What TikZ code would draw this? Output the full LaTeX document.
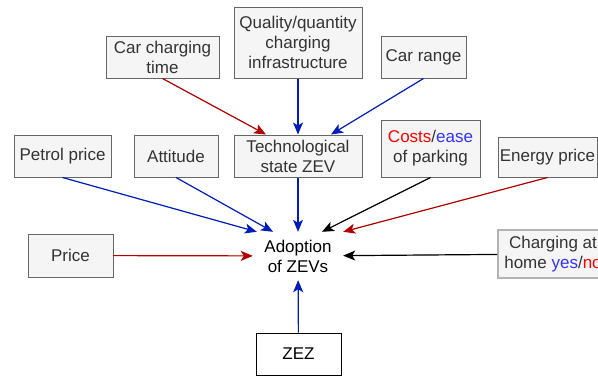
\documentclass[tikz,border=0pt]{standalone}
\usepackage{fontspec}
\setmainfont{Liberation Sans}
\usetikzlibrary{arrows.meta}
\definecolor{boxfill}{HTML}{F5F5F5}
\definecolor{boxline}{HTML}{666666}
\definecolor{boxtext}{HTML}{333333}
\definecolor{homeline}{HTML}{B3B3B3}
\definecolor{posblue}{HTML}{001DBC}
\definecolor{negred}{HTML}{B20000}
\definecolor{txtred}{HTML}{FF0000}
\definecolor{txtblue}{HTML}{3333FF}
\begin{document}
\begin{tikzpicture}[x=1pt, y=-1pt,
  factor/.style={shape=rectangle, draw=boxline, fill=boxfill, text=boxtext, line width=1pt,
    align=center, inner sep=0pt, font=\fontsize{17}{20}\selectfont},
  link/.style={line width=1.2pt, -{Stealth[length=12pt, width=10pt, inset=3pt]}},
  poslink/.style={link, draw=posblue, fill=posblue},
  neglink/.style={link, draw=negred, fill=negred},
  neutlink/.style={link, draw=black, fill=black}]
\path[use as bounding box, clip] (0,0) rectangle (598,378);
\node at (162.5, 57) [factor, minimum width=113, minimum height=42] (chargetime) {Car charging\\time};
\node at (298, 42.5) [factor, minimum width=128, minimum height=71] (infra) {Quality/quantity\\charging\\infrastructure};
\node at (423.5, 57) [factor, minimum width=85, minimum height=42] (range) {Car range};
\node at (62.5, 156) [factor, minimum width=97, minimum height=42] (petrol) {Petrol price};
\node at (176, 156) [factor, minimum width=84, minimum height=42] (attitude) {Attitude};
\node at (298, 156) [factor, minimum width=128, minimum height=42] (tech) {Technological\\state ZEV};
\node at (430.5, 148.5) [factor, minimum width=99, minimum height=57] (parking) {\textcolor{txtred}{Costs}/\textcolor{txtblue}{ease}\\of parking};
\node at (547.5, 157) [factor, minimum width=99, minimum height=40] (energy) {Energy price};
\node at (70.5, 255.5) [factor, minimum width=85, minimum height=43] (price) {Price};
\node at (298, 256) [shape=rectangle, align=center, inner sep=0pt, minimum width=90, minimum height=48,
  font=\fontsize{17}{20}\selectfont] (adoption) {Adoption\\of ZEVs};
\node at (553, 254) [factor, draw=homeline, line width=2pt, minimum width=110, minimum height=48] (home) {Charging at\\home \textcolor{txtblue}{yes}/\textcolor{txtred}{no}};
\node at (298.5, 354) [factor, fill=white, draw=black, text=black, minimum width=85, minimum height=42] (zez) {ZEZ};
% into technological state
\draw [neglink] (chargetime.south) to ([xshift=-32pt]tech.north);
\draw [poslink] (infra) to (tech);
\draw [poslink] (range.south) to ([xshift=33pt]tech.north);
% into adoption
\draw [poslink] (petrol.south) to ([xshift=4pt]adoption.north west);
\draw [poslink] (attitude.south) to ([xshift=-25pt]adoption.north);
\draw [poslink] (tech) to (adoption);
\draw [neutlink] (parking.south) to ([xshift=24pt]adoption.north);
\draw [neglink] (energy.south) to (adoption.north east);
\draw [neglink] (price) to (adoption);
\draw [neutlink] (home) to (adoption);
\draw [poslink] (zez) to (adoption);
\end{tikzpicture}
\end{document}
